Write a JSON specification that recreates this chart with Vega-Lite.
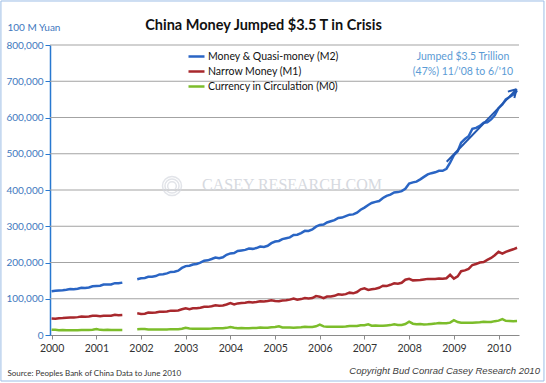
{
 "$schema": "https://vega.github.io/schema/vega-lite/v6.json",
 "width": 469, "height": 290,
 "autosize": {"type": "none"},
 "padding": {"left": 50, "top": 45, "right": 27, "bottom": 48},
 "background": "white",
 "config": {"font": "Lato", "view": {"stroke": null}},
 "title": {"text": "China Money Jumped $3.5 T in Crisis", "fontSize": 14.5, "fontWeight": "bold", "color": "#111111", "anchor": "middle", "dx": -21, "offset": -33, "font": "Lato"},
 "datasets": {
  "money": [
   {"date":"2000-01","M2":120500,"M1":45500,"M0":14500},
   {"date":"2000-02","M2":121800,"M1":45000,"M0":14200},
   {"date":"2000-03","M2":122600,"M1":46300,"M0":13400},
   {"date":"2000-04","M2":123400,"M1":46700,"M0":13500},
   {"date":"2000-05","M2":124800,"M1":47500,"M0":13200},
   {"date":"2000-06","M2":126600,"M1":48400,"M0":13000},
   {"date":"2000-07","M2":126100,"M1":48200,"M0":13200},
   {"date":"2000-08","M2":127500,"M1":49300,"M0":13400},
   {"date":"2000-09","M2":130500,"M1":50700,"M0":14000},
   {"date":"2000-10","M2":129900,"M1":50300,"M0":13700},
   {"date":"2000-11","M2":131000,"M1":51100,"M0":13800},
   {"date":"2000-12","M2":134600,"M1":53100,"M0":14700},
   {"date":"2001-01","M2":135500,"M1":53000,"M0":16500},
   {"date":"2001-02","M2":135800,"M1":51800,"M0":14200},
   {"date":"2001-03","M2":139000,"M1":53100,"M0":14100},
   {"date":"2001-04","M2":139200,"M1":52800,"M0":14200},
   {"date":"2001-05","M2":139500,"M1":53300,"M0":13800},
   {"date":"2001-06","M2":143000,"M1":55500,"M0":13600},
   {"date":"2001-07","M2":142500,"M1":54400,"M0":13800},
   {"date":"2001-08","M2":144500,"M1":55100,"M0":13900},
   {"date":"2001-09","M2":null,"M1":null,"M0":null},
   {"date":"2001-10","M2":null,"M1":null,"M0":null},
   {"date":"2001-11","M2":null,"M1":null,"M0":null},
   {"date":"2001-12","M2":154000,"M1":59900,"M0":15700},
   {"date":"2002-01","M2":156500,"M1":58200,"M0":16300},
   {"date":"2002-02","M2":157500,"M1":58900,"M0":16800},
   {"date":"2002-03","M2":160500,"M1":61900,"M0":15300},
   {"date":"2002-04","M2":161000,"M1":61500,"M0":15200},
   {"date":"2002-05","M2":162500,"M1":62200,"M0":14900},
   {"date":"2002-06","M2":167000,"M1":63800,"M0":14900},
   {"date":"2002-07","M2":167500,"M1":63900,"M0":15000},
   {"date":"2002-08","M2":170000,"M1":64900,"M0":15300},
   {"date":"2002-09","M2":174000,"M1":67200,"M0":16200},
   {"date":"2002-10","M2":174500,"M1":66900,"M0":15900},
   {"date":"2002-11","M2":177500,"M1":67600,"M0":16000},
   {"date":"2002-12","M2":185000,"M1":70900,"M0":17300},
   {"date":"2003-01","M2":190000,"M1":73500,"M0":20000},
   {"date":"2003-02","M2":191000,"M1":71000,"M0":18200},
   {"date":"2003-03","M2":194500,"M1":73600,"M0":17100},
   {"date":"2003-04","M2":196100,"M1":74000,"M0":17300},
   {"date":"2003-05","M2":199500,"M1":75000,"M0":16900},
   {"date":"2003-06","M2":204900,"M1":77700,"M0":17100},
   {"date":"2003-07","M2":206000,"M1":77600,"M0":17400},
   {"date":"2003-08","M2":209600,"M1":79300,"M0":17800},
   {"date":"2003-09","M2":213600,"M1":81800,"M0":18900},
   {"date":"2003-10","M2":212000,"M1":80600,"M0":18500},
   {"date":"2003-11","M2":214500,"M1":81500,"M0":18600},
   {"date":"2003-12","M2":221200,"M1":84100,"M0":19700},
   {"date":"2004-01","M2":225000,"M1":87900,"M0":22000},
   {"date":"2004-02","M2":226000,"M1":84200,"M0":19900},
   {"date":"2004-03","M2":231700,"M1":87200,"M0":18900},
   {"date":"2004-04","M2":233400,"M1":88400,"M0":19300},
   {"date":"2004-05","M2":234800,"M1":89200,"M0":18900},
   {"date":"2004-06","M2":238400,"M1":90900,"M0":18900},
   {"date":"2004-07","M2":237600,"M1":89500,"M0":19200},
   {"date":"2004-08","M2":239800,"M1":91000,"M0":19600},
   {"date":"2004-09","M2":243800,"M1":92900,"M0":20600},
   {"date":"2004-10","M2":243100,"M1":92600,"M0":20000},
   {"date":"2004-11","M2":246100,"M1":93800,"M0":20200},
   {"date":"2004-12","M2":253200,"M1":96000,"M0":21500},
   {"date":"2005-01","M2":257700,"M1":93700,"M0":22000},
   {"date":"2005-02","M2":259400,"M1":93000,"M0":24200},
   {"date":"2005-03","M2":264600,"M1":95300,"M0":20600},
   {"date":"2005-04","M2":266900,"M1":95700,"M0":20800},
   {"date":"2005-05","M2":269200,"M1":97500,"M0":20500},
   {"date":"2005-06","M2":275800,"M1":100600,"M0":20300},
   {"date":"2005-07","M2":276700,"M1":97600,"M0":20800},
   {"date":"2005-08","M2":281300,"M1":99000,"M0":21300},
   {"date":"2005-09","M2":287400,"M1":102000,"M0":22800},
   {"date":"2005-10","M2":286900,"M1":100800,"M0":22100},
   {"date":"2005-11","M2":291000,"M1":102000,"M0":22300},
   {"date":"2005-12","M2":298800,"M1":107300,"M0":24000},
   {"date":"2006-01","M2":303600,"M1":105700,"M0":28700},
   {"date":"2006-02","M2":304500,"M1":101400,"M0":23800},
   {"date":"2006-03","M2":310500,"M1":106100,"M0":22500},
   {"date":"2006-04","M2":313700,"M1":106400,"M0":23000},
   {"date":"2006-05","M2":316700,"M1":108000,"M0":22500},
   {"date":"2006-06","M2":323000,"M1":112300,"M0":22500},
   {"date":"2006-07","M2":324000,"M1":111000,"M0":22900},
   {"date":"2006-08","M2":327900,"M1":112700,"M0":23400},
   {"date":"2006-09","M2":331900,"M1":116800,"M0":25000},
   {"date":"2006-10","M2":332700,"M1":115000,"M0":24600},
   {"date":"2006-11","M2":337500,"M1":118600,"M0":24700},
   {"date":"2006-12","M2":345600,"M1":126000,"M0":27100},
   {"date":"2007-01","M2":351500,"M1":128700,"M0":26700},
   {"date":"2007-02","M2":358700,"M1":124300,"M0":29300},
   {"date":"2007-03","M2":364100,"M1":126300,"M0":25800},
   {"date":"2007-04","M2":367300,"M1":127700,"M0":25900},
   {"date":"2007-05","M2":369700,"M1":130100,"M0":25600},
   {"date":"2007-06","M2":377800,"M1":135800,"M0":25700},
   {"date":"2007-07","M2":383900,"M1":134900,"M0":26400},
   {"date":"2007-08","M2":387200,"M1":138500,"M0":27300},
   {"date":"2007-09","M2":393100,"M1":142600,"M0":29400},
   {"date":"2007-10","M2":394200,"M1":141400,"M0":27500},
   {"date":"2007-11","M2":397000,"M1":144000,"M0":27900},
   {"date":"2007-12","M2":403400,"M1":152500,"M0":30300},
   {"date":"2008-01","M2":417800,"M1":154900,"M0":36700},
   {"date":"2008-02","M2":421000,"M1":150700,"M0":31200},
   {"date":"2008-03","M2":423100,"M1":150900,"M0":29800},
   {"date":"2008-04","M2":429300,"M1":151600,"M0":30100},
   {"date":"2008-05","M2":436200,"M1":153300,"M0":29300},
   {"date":"2008-06","M2":443100,"M1":154800,"M0":29600},
   {"date":"2008-07","M2":446400,"M1":154800,"M0":30500},
   {"date":"2008-08","M2":448800,"M1":154300,"M0":31400},
   {"date":"2008-09","M2":452900,"M1":155700,"M0":33200},
   {"date":"2008-10","M2":453100,"M1":155200,"M0":32300},
   {"date":"2008-11","M2":458600,"M1":156500,"M0":32200},
   {"date":"2008-12","M2":475200,"M1":166200,"M0":34200},
   {"date":"2009-01","M2":496100,"M1":155500,"M0":41100},
   {"date":"2009-02","M2":506700,"M1":161700,"M0":35600},
   {"date":"2009-03","M2":530600,"M1":176000,"M0":33700},
   {"date":"2009-04","M2":540500,"M1":178200,"M0":34000},
   {"date":"2009-05","M2":548300,"M1":182300,"M0":33500},
   {"date":"2009-06","M2":568900,"M1":193100,"M0":33800},
   {"date":"2009-07","M2":571400,"M1":195900,"M0":34300},
   {"date":"2009-08","M2":576700,"M1":199900,"M0":35000},
   {"date":"2009-09","M2":585400,"M1":201100,"M0":36800},
   {"date":"2009-10","M2":586600,"M1":207000,"M0":35900},
   {"date":"2009-11","M2":594600,"M1":212500,"M0":35900},
   {"date":"2009-12","M2":606200,"M1":220000,"M0":38200},
   {"date":"2010-01","M2":625600,"M1":229600,"M0":39600},
   {"date":"2010-02","M2":636100,"M1":224300,"M0":43600},
   {"date":"2010-03","M2":649900,"M1":229400,"M0":39000},
   {"date":"2010-04","M2":656600,"M1":233000,"M0":38700},
   {"date":"2010-05","M2":663400,"M1":236400,"M0":37700},
   {"date":"2010-06","M2":673900,"M1":240600,"M0":38300}
  ],
  "gridlines": [
   {"date":"1999-12-19","value":100000,"g":"a"},{"date":"2010-06-17","value":100000,"g":"a"},
   {"date":"1999-12-19","value":200000,"g":"b"},{"date":"2010-06-17","value":200000,"g":"b"},
   {"date":"1999-12-19","value":300000,"g":"c"},{"date":"2010-06-17","value":300000,"g":"c"},
   {"date":"1999-12-19","value":400000,"g":"d"},{"date":"2010-06-17","value":400000,"g":"d"},
   {"date":"1999-12-19","value":500000,"g":"e"},{"date":"2010-06-17","value":500000,"g":"e"},
   {"date":"1999-12-19","value":600000,"g":"f"},{"date":"2010-06-17","value":600000,"g":"f"},
   {"date":"1999-12-19","value":700000,"g":"h"},{"date":"2010-06-17","value":700000,"g":"h"},
   {"date":"1999-12-19","value":800000,"g":"i"},{"date":"2010-06-17","value":800000,"g":"i"}
  ],
  "frame": [
   {"date":"1998-11-13","date2":"2011-01-07","value":921400,"value2":-126900}
  ],
  "arrow": [
   {"date":"2008-11-03","value":478000,"date2":"2010-05-28","value2":677800},
   {"date":"2010-05-28","value":677800,"date2":"2010-03-18","value2":671400},
   {"date":"2010-05-28","value":677800,"date2":"2010-05-10","value2":653800}
  ],
  "notes": [
   {"date":"2009-03-16","value":766900,"label":"Jumped $3.5 Trillion"},
   {"date":"2009-03-16","value":725500,"label":"(47%) 11/'08 to 6/'10"}
  ],
  "mark": [
   {"date":"2005-05-19","value":413800,"label":"CASEY RESEARCH.COM"}
  ],
  "logo": [
   {"date":"2002-09-11","value":411000,"ring":700},
   {"date":"2002-09-11","value":411000,"ring":380},
   {"date":"2002-09-11","value":411000,"ring":140}
  ],
  "copy": [
   {"date":"2010-12-05","value":-99300,"label":"Copyright Bud Conrad Casey Research 2010"}
  ]
 },
 "encoding": {
  "x": {
   "field": "date", "type": "temporal",
   "scale": {"type": "utc", "domain": [{"year": 1999, "month": 12, "date": 19, "utc": true}, {"year": 2010, "month": 6, "date": 17, "utc": true}]},
   "axis": {
    "title": "Source: Peoples Bank of China Data to June 2010",
    "titleX": -43, "titleY": 38, "titleAlign": "left", "titleBaseline": "middle",
    "titleFont": "Lato", "titleFontSize": 8, "titleFontWeight": "normal", "titleColor": "#333333",
    "format": "%Y", "tickCount": {"interval": "year", "step": 1},
    "labelFontSize": 10.5, "labelColor": "#333333", "labelPadding": 4, "labelFlush": false, "labelOverlap": false,
    "tickSize": 4, "tickColor": "#8a8a8a", "domainColor": "#8a8a8a", "grid": false
   }
  },
  "y": {
   "field": "value", "type": "quantitative",
   "scale": {"domain": [0, 800000], "nice": false},
   "axis": {
    "title": "100 M Yuan", "titleAngle": 0, "titleX": -43, "titleY": -18, "titleAlign": "left", "titleBaseline": "middle",
    "titleFontSize": 10, "titleFontWeight": "normal", "titleColor": "#4178be",
    "values": [0, 100000, 200000, 300000, 400000, 500000, 600000, 700000, 800000],
    "format": ",d", "labelColor": "#4178be", "labelFontSize": 10, "labelPadding": 2, "labelOverlap": false,
    "tickSize": 5, "tickColor": "#2878d0", "domainColor": "#2878d0", "domainWidth": 1.5,
    "grid": false
   }
  }
 },
 "layer": [
  {
   "data": {"name": "frame"},
   "mark": {"type": "rect", "fill": null, "stroke": "#9dbde6", "strokeWidth": 1},
   "encoding": {
    "x2": {"field": "date2"},
    "y2": {"field": "value2"}
   }
  },
  {
   "data": {"name": "gridlines"},
   "mark": {"type": "line", "color": "#a3a3a3", "strokeWidth": 1},
   "encoding": {
    "detail": {"field": "g", "type": "nominal"}
   }
  },
  {
   "data": {"name": "mark"},
   "mark": {"type": "text", "font": "Liberation Serif", "fontSize": 16, "color": "#d6d9e0", "align": "center", "baseline": "middle"},
   "encoding": {"text": {"field": "label"}}
  },
  {
   "data": {"name": "logo"},
   "mark": {"type": "point", "shape": "circle", "filled": false, "color": "#d6d9e0", "strokeWidth": 1.5},
   "encoding": {
    "size": {"field": "ring", "type": "quantitative", "scale": {"type": "identity"}, "legend": null}
   }
  },
  {
   "data": {"name": "money"},
   "transform": [{"fold": ["M2", "M1", "M0"], "as": ["series", "value"]}],
   "mark": {"type": "line", "strokeWidth": 2.5},
   "encoding": {
    "color": {
     "field": "series", "type": "nominal",
     "scale": {"domain": ["M2", "M1", "M0"], "range": ["#2a65c4", "#a8282d", "#7cbd2b"]},
     "legend": {
      "orient": "none", "legendX": 137, "legendY": 2, "title": null,
      "symbolType": "stroke", "symbolSize": 256, "symbolStrokeWidth": 2.5,
      "labelFontSize": 10.5, "labelColor": "#111111", "rowPadding": 0, "labelOffset": 2,
      "labelExpr": "datum.label == 'M2' ? 'Money & Quasi-money (M2)' : datum.label == 'M1' ? 'Narrow Money (M1)' : 'Currency in Circulation (M0)'"
     }
    }
   }
  },
  {
   "data": {"name": "arrow"},
   "mark": {"type": "rule", "color": "#2257b0", "strokeWidth": 2},
   "encoding": {
    "x2": {"field": "date2"},
    "y2": {"field": "value2"}
   }
  },
  {
   "data": {"name": "notes"},
   "mark": {"type": "text", "fontSize": 10.5, "color": "#5b9bd5", "align": "center", "baseline": "middle"},
   "encoding": {"text": {"field": "label"}}
  },
  {
   "data": {"name": "copy"},
   "mark": {"type": "text", "font": "Liberation Sans", "fontStyle": "italic", "fontSize": 9.5, "color": "#404040", "align": "right", "baseline": "middle"},
   "encoding": {"text": {"field": "label"}}
  }
 ]
}
